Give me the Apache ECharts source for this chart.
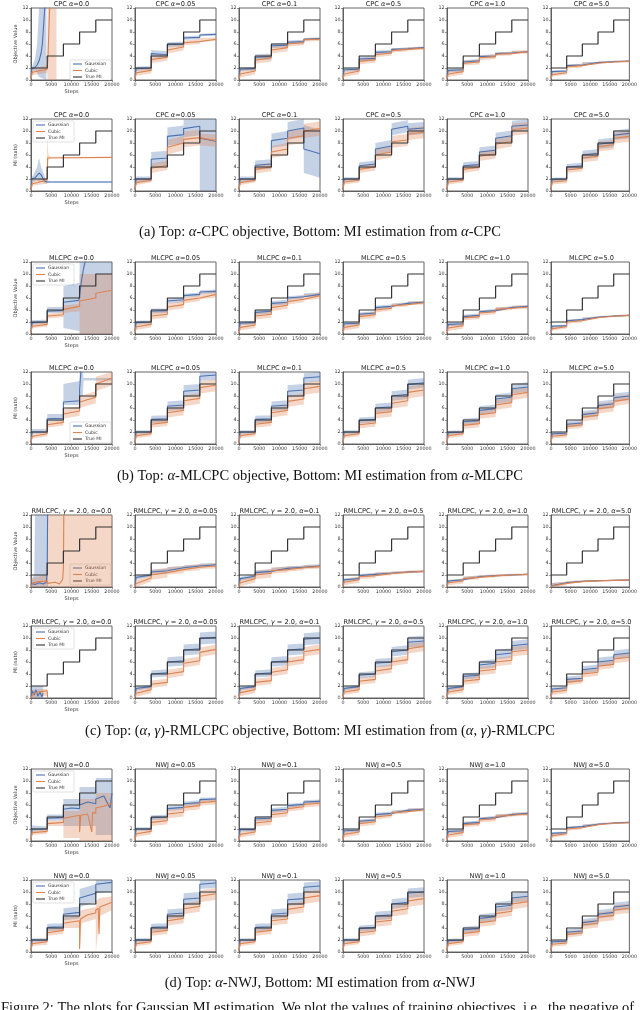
<!DOCTYPE html>
<html><head><meta charset="utf-8">
<script src="https://cdn.jsdelivr.net/npm/echarts@6/dist/echarts.min.js"></script>
<style>html,body{margin:0;padding:0;background:#fff;overflow:hidden}#c{width:640px;height:1010px}</style>
</head><body><div id="c"></div><script>
// ---------------- DATA ----------------
const ALPHAS = ['0.0','0.05','0.1','0.5','1.0','5.0'];
const METHODS = ['CPC','CPC','MLCPC','MLCPC','RMLCPC','RMLCPC','NWJ','NWJ'];
const GAMMA = '2.0';
const Y_NAMES = ['Objective Value','MI (nats)'];
const X_TICKS = [0,5000,10000,15000,20000];
const Y_TICKS = [0,2,4,6,8,10,12];
const LEGEND_NAMES = ['Gaussian','Cubic','True MI'];
// knot steps for smoothed curves: start, stage1 start/end, stage2 start/end ...
const KNOT_STEPS = [0,300,4000,4000,8000,8000,12000,12000,16000,16000,20000];
const TRUE_MI_STEPS = [0,4000,4000,8000,8000,12000,12000,16000,16000,20000];
const TRUE_MI = [2,2,4,4,6,6,8,8,10,10];

const CPC_OBJ_G = [
 [[0,0.3],[200,1.9],[1000,2.1],[1500,2.5],[2000,3.2],[2500,4.5],[2800,6],[3000,8],[3200,10],[3400,12],[3500,14]],
 [0.5,1.9,2.0,4.4,4.2,5.9,6.0,7.0,7.1,7.5,7.6],
 [0.5,1.8,1.9,3.8,3.9,5.7,5.8,6.3,6.4,6.8,6.9],
 [0.5,1.7,1.8,3.5,3.6,4.6,4.7,5.1,5.2,5.3,5.4],
 [0.5,1.6,1.7,3.0,3.2,3.9,4.0,4.4,4.5,4.7,4.7],
 [0.4,1.4,1.5,2.4,2.5,2.8,2.9,3.0,3.05,3.1,3.15]];
const CPC_OBJ_C = [
 [[0,0.2],[300,1.3],[4000,1.8],[4200,4],[4400,8],[4600,12],[4700,14]],
 [0.2,1.2,1.6,3.4,3.8,5.0,5.5,6.2,6.4,6.7,6.8],
 [0.2,1.0,1.5,3.3,3.7,5.0,5.4,6.0,6.2,6.7,6.8],
 [0.2,1.0,1.5,3.1,3.4,4.2,4.5,4.9,5.1,5.2,5.3],
 [0.2,1.0,1.4,2.8,3.0,3.7,3.9,4.3,4.4,4.6,4.7],
 [0.2,0.9,1.2,2.2,2.4,2.7,2.8,2.95,3.0,3.1,3.1]];
const CPC_OBJ_SG = [
 [[0,0,2],[500,1.6,2.6],[1000,1.6,3.5],[1500,1.2,6],[2000,0.5,12],[3800,0,12]],
 [0.35,0.6,0.4,0.3,0.2],[0.3,0.5,0.4,0.3,0.2],[0.3,0.4,0.3,0.2,0.15],[0.3,0.3,0.25,0.2,0.15],[0.2,0.2,0.15,0.1,0.1]];
const CPC_OBJ_SC = [
 [[0,0,1.5],[300,0.8,2],[4000,1.2,2.4],[4100,0,12],[6300,0,12]],
 [0.5,0.6,0.6,0.4,0.3],[0.6,0.6,0.6,0.4,0.3],[0.5,0.5,0.4,0.3,0.3],[0.5,0.4,0.4,0.3,0.3],[0.3,0.3,0.2,0.15,0.15]];

const CPC_MI_G = [
 [[0,0.3],[200,2.0],[1000,2.2],[1500,2.6],[2000,3.0],[2500,2.7],[3000,2.0],[3500,1.6],[4000,1.5],[20000,1.5]],
 [0.3,2.0,2.0,5.3,5.5,9.1,9.4,10.4,10.8,8.8,8.3],
 [0.3,2.0,2.0,4.3,4.5,8.4,8.8,10.0,10.5,7.0,6.2],
 [0.3,2.0,2.0,4.2,4.5,7.0,7.5,10.3,10.8,10.3,10.5],
 [0.3,2.0,2.0,4.2,4.4,6.5,6.8,8.8,9.2,10.8,11.0],
 [0.3,1.9,2.0,4.0,4.2,6.0,6.3,7.8,8.1,9.3,9.6]];
const CPC_MI_C = [
 [[0,0.2],[300,1.2],[3500,1.7],[4000,2.0],[4100,5.5],[4500,5.6],[20000,5.6]],
 [0.2,1.4,1.8,3.8,4.3,7.3,8.0,8.6,8.9,8.6,8.4],
 [0.2,1.4,1.8,3.6,4.0,6.5,7.0,8.8,9.2,10.0,10.4],
 [0.2,1.5,1.8,3.6,4.0,6.0,6.5,8.2,8.5,9.5,9.8],
 [0.2,1.5,1.8,3.6,4.0,5.8,6.2,7.8,8.3,10.2,10.5],
 [0.2,1.5,1.7,3.5,3.8,5.5,5.8,7.4,7.7,8.8,9.1]];
const CPC_MI_SG = [
 [[0,0,2.2],[500,1.6,2.6],[1500,1.8,4],[2000,1.5,5.5],[2500,1.8,4],[3500,1.2,2.2],[4500,1.4,1.6],[20000,1.4,1.6]],
 [0.4,1.2,1.5,1.5,9],[0.4,0.8,1.2,1.5,4],[0.3,0.6,1.0,1.0,1.0],[0.3,0.6,0.8,0.9,0.9],[0.3,0.5,0.7,0.8,0.8]];
const CPC_MI_SC = [
 [[0,0,1.5],[300,0.9,1.8],[3900,1.2,2.2],[4000,1,9],[4300,5.2,6],[5000,5.5,5.7],[20000,5.55,5.65]],
 [0.4,0.8,1.2,1.3,1.0],[0.4,0.7,1.0,1.2,1.2],[0.4,0.6,0.9,1.0,1.0],[0.4,0.6,0.8,0.9,1.0],[0.4,0.5,0.7,0.8,0.9]];

const MLCPC_OBJ_G = [
 [[0,0.3],[300,1.9],[4000,2.0],[4000,3.8],[8000,3.9],[8000,5.3],[11800,5.6],[12000,6.5],[12500,9],[13000,11],[13500,12.4],[14000,14]],
 [0.5,1.9,2.0,3.8,3.9,5.5,5.7,6.4,6.6,7.0,7.1],
 [0.5,1.8,1.9,3.6,3.8,5.1,5.3,6.0,6.2,6.5,6.6],
 [0.5,1.7,1.8,3.3,3.5,4.4,4.6,4.9,5.1,5.2,5.3],
 [0.5,1.6,1.7,2.9,3.1,3.7,3.9,4.2,4.4,4.5,4.6],
 [0.4,1.3,1.4,2.2,2.4,2.6,2.8,2.9,3.0,3.05,3.1]];
const MLCPC_OBJ_C = [
 [0.2,1.3,1.6,3.0,3.2,4.1,4.6,5.5,6.0,6.8,7.3],
 [0.2,1.2,1.6,3.0,3.3,4.5,4.9,5.6,6.0,6.3,6.6],
 [0.2,1.1,1.5,3.0,3.3,4.4,4.8,5.4,5.8,6.1,6.4],
 [0.2,1.1,1.5,2.9,3.2,4.0,4.3,4.7,4.9,5.1,5.2],
 [0.2,1.0,1.4,2.7,2.9,3.5,3.7,4.1,4.3,4.4,4.5],
 [0.2,0.9,1.2,2.0,2.2,2.5,2.7,2.85,2.95,3.0,3.1]];
const MLCPC_OBJ_SG = [
 [[0,0,2.2],[300,1.6,2.3],[4000,1.7,2.4],[4000,3.5,4.5],[8000,3.5,4.5],[8000,1,8],[12000,0.5,8.5],[12000,0,12],[20000,0,12]],
 [0.3,0.4,0.4,0.3,0.3],[0.3,0.4,0.4,0.3,0.3],[0.3,0.3,0.3,0.2,0.2],[0.3,0.3,0.25,0.2,0.2],[0.2,0.2,0.15,0.1,0.1]];
const MLCPC_OBJ_SC = [
 [[0,0,1.5],[300,1,1.8],[4000,1.2,2],[4000,2.6,3.4],[8000,2.8,3.6],[8000,3.5,4.8],[12000,3.8,5],[12000,0,10],[20000,0,10]],
 [0.5,0.6,0.6,0.5,0.5],[0.5,0.6,0.6,0.5,0.5],[0.5,0.5,0.4,0.3,0.3],[0.5,0.4,0.4,0.3,0.3],[0.3,0.3,0.2,0.15,0.15]];

const MLCPC_MI_G = [
 [[0,0.3],[300,2.0],[4000,2.0],[4000,4.2],[8000,4.3],[8000,7.0],[12000,7.2],[12000,9],[12300,12],[12500,14]],
 [0.3,2.0,2.0,4.1,4.2,6.3,6.5,8.8,9.0,11.3,11.5],
 [0.3,2.0,2.0,4.1,4.2,6.3,6.5,8.8,9.0,11.0,11.2],
 [0.3,2.0,2.0,3.9,4.1,6.0,6.2,8.0,8.3,9.9,10.2],
 [0.3,1.9,2.0,3.7,3.9,5.6,5.9,7.5,7.8,9.2,9.5],
 [0.3,1.7,1.8,3.3,3.5,4.9,5.2,6.4,6.7,7.7,8.0]];
const MLCPC_MI_C = [
 [0.2,1.3,1.7,3.2,3.6,5.0,5.5,7.0,7.8,10.0,11.0],
 [0.2,1.4,1.7,3.3,3.6,5.2,5.6,7.2,7.6,9.4,9.8],
 [0.2,1.4,1.7,3.3,3.6,5.2,5.6,7.1,7.5,9.2,9.6],
 [0.2,1.4,1.7,3.2,3.5,5.1,5.4,6.8,7.2,8.6,9.0],
 [0.2,1.4,1.7,3.1,3.4,4.9,5.2,6.5,6.9,8.2,8.6],
 [0.2,1.3,1.5,2.9,3.2,4.5,4.8,5.9,6.2,7.1,7.5]];
const MLCPC_MI_SG = [
 [[0,0,2.2],[300,1.7,2.5],[4000,1.8,2.5],[4000,3.8,5],[8000,3.8,5],[8000,6.5,10],[12000,6.5,10.5],[12000,8,12],[12800,8,12],[13000,10.6,11],[20000,10.6,11]],
 [0.3,0.6,0.8,1.0,0.8],[0.3,0.6,0.8,1.0,0.8],[0.3,0.5,0.7,0.8,0.8],[0.3,0.5,0.7,0.8,0.8],[0.3,0.5,0.6,0.7,0.7]];
const MLCPC_MI_SC = [
 [0.4,0.5,0.8,1.0,1.2],[0.4,0.6,0.8,0.9,1.0],[0.4,0.6,0.8,0.9,1.0],[0.4,0.6,0.8,0.9,1.0],[0.4,0.6,0.7,0.8,0.9],[0.4,0.5,0.7,0.8,0.8]];

const RMLCPC_OBJ_G = [
 [[0,0.2],[300,0.6],[1000,0.4],[2000,0.7],[3000,0.5],[3800,0.8],[4000,3],[4100,12],[4200,14]],
 [0.3,1.6,2.0,2.5,2.7,3.0,3.2,3.3,3.5,3.6,3.7],
 [0.3,1.4,1.8,2.4,2.6,2.9,3.1,3.2,3.3,3.4,3.5],
 [0.3,1.2,1.4,1.9,2.1,2.2,2.3,2.4,2.5,2.55,2.6],
 [0.3,1.0,1.2,1.5,1.7,1.8,1.9,1.95,2.0,2.05,2.1],
 [0.2,0.5,0.7,0.85,0.95,1.0,1.05,1.08,1.1,1.12,1.15]];
const RMLCPC_OBJ_C = [
 [[0,0.1],[500,0.7],[2000,0.9],[4000,1.0],[4000,0.6],[6000,0.8],[7000,0.5],[7800,1.2],[8000,3],[8100,12],[8200,14]],
 [0.1,0.6,1.5,2.0,2.4,2.7,2.9,3.1,3.3,3.4,3.5],
 [0.1,0.7,1.4,2.0,2.3,2.7,2.9,3.0,3.2,3.3,3.4],
 [0.1,0.8,1.2,1.7,1.9,2.1,2.25,2.35,2.45,2.5,2.6],
 [0.1,0.7,1.0,1.4,1.6,1.75,1.85,1.9,2.0,2.05,2.1],
 [0.1,0.4,0.6,0.8,0.9,0.97,1.02,1.06,1.1,1.12,1.15]];
const RMLCPC_OBJ_SG = [
 [[0,0,1],[800,0,2],[1000,0,12],[4200,0,12]],
 [0.3,0.4,0.3,0.3,0.3],[0.3,0.35,0.3,0.25,0.25],[0.25,0.25,0.2,0.15,0.15],[0.2,0.2,0.15,0.12,0.12],[0.15,0.12,0.1,0.08,0.08]];
const RMLCPC_OBJ_SC = [
 [[0,0,1.5],[4000,0,2],[4200,0,12],[20000,0,12]],
 [0.6,0.8,0.6,0.5,0.4],[0.6,0.7,0.5,0.4,0.35],[0.5,0.4,0.3,0.25,0.2],[0.4,0.3,0.25,0.2,0.15],[0.3,0.2,0.15,0.1,0.1]];

const RMLCPC_MI_G = [
 [[0,0.2],[300,1.2],[800,0.5],[1200,1.4],[1700,0.3],[2200,1.0],[2700,0.2],[3000,0.8]],
 [0.3,1.6,1.9,4.0,4.2,6.0,6.2,8.0,8.2,9.9,10.1],
 [0.3,1.6,1.9,4.0,4.2,6.0,6.2,8.0,8.2,9.8,10.0],
 [0.3,1.6,1.9,3.8,4.0,5.8,6.0,7.7,8.0,9.3,9.5],
 [0.3,1.6,1.9,3.6,3.8,5.5,5.8,7.2,7.5,8.7,9.0],
 [0.3,1.5,1.7,3.1,3.3,4.7,5.0,6.0,6.3,7.2,7.5]];
const RMLCPC_MI_C = [
 [[0,0.1],[500,0.6],[1500,1.0],[3000,1.1],[4000,1.2],[4100,0]],
 [0.1,0.8,1.4,2.3,2.6,4.0,4.4,5.8,6.2,7.6,8.1],
 [0.1,0.9,1.4,2.6,2.9,4.3,4.7,6.0,6.4,7.7,8.1],
 [0.1,1.0,1.4,2.8,3.1,4.5,4.9,6.0,6.4,8.2,8.6],
 [0.1,1.0,1.4,2.8,3.1,4.5,4.8,6.0,6.3,7.7,8.0],
 [0.1,1.0,1.3,2.6,2.9,4.0,4.3,5.3,5.6,6.5,6.8]];
const RMLCPC_MI_SG = [
 [[0,0,2],[3000,0,2]],
 [0.3,0.6,0.8,0.9,1.0],[0.3,0.6,0.8,0.9,1.0],[0.3,0.5,0.7,0.8,0.9],[0.3,0.5,0.7,0.8,0.8],[0.3,0.5,0.6,0.7,0.7]];
const RMLCPC_MI_SC = [
 [[0,0,1.3],[4000,0.4,1.6],[4200,0,0.2]],
 [0.6,0.6,0.7,0.7,0.8],[0.6,0.6,0.7,0.7,0.8],[0.5,0.6,0.7,0.7,0.8],[0.5,0.6,0.7,0.7,0.8],[0.5,0.5,0.6,0.6,0.7]];

const NWJ_OBJ_G = [
 [[0,0.3],[300,2.0],[4000,2.0],[4000,3.8],[8000,3.9],[8000,5.3],[10000,5.5],[12000,5.4],[12000,6.0],[14000,6.5],[16000,6.2],[16000,7.0],[18000,7.5],[19500,5.5],[20000,8.0]],
 [0.5,2.0,2.0,3.9,4.0,5.4,5.6,6.2,6.4,6.9,7.0],
 [0.5,1.9,1.9,3.7,3.8,5.1,5.3,5.9,6.1,6.5,6.6],
 [0.5,1.7,1.8,3.3,3.5,4.4,4.6,4.9,5.1,5.2,5.3],
 [0.5,1.6,1.7,2.9,3.1,3.7,3.9,4.2,4.4,4.5,4.6],
 [0.4,1.3,1.4,2.2,2.4,2.6,2.8,2.9,3.0,3.05,3.1]];
const NWJ_OBJ_C = [
 [[0,0.2],[300,1.4],[4000,1.6],[4000,2.9],[8000,3.1],[8000,3.8],[12000,4.3],[12000,1.5],[12300,4.3],[14000,4.5],[15000,1.5],[15200,4.8],[16000,4.6],[16000,5.5],[18000,5.8],[20000,6.3]],
 [0.2,1.2,1.6,3.1,3.4,4.5,4.8,5.6,5.9,6.4,6.6],
 [0.2,1.1,1.5,3.0,3.3,4.4,4.7,5.4,5.7,6.1,6.3],
 [0.2,1.1,1.5,2.9,3.2,4.0,4.3,4.7,4.9,5.1,5.2],
 [0.2,1.0,1.4,2.7,2.9,3.5,3.7,4.1,4.3,4.4,4.5],
 [0.2,0.9,1.2,2.0,2.2,2.5,2.7,2.85,2.95,3.0,3.05]];
const NWJ_OBJ_SG = [
 [[0,0,2.4],[300,1.6,2.6],[4000,1.8,2.4],[4000,3.4,4.4],[8000,3.4,4.4],[8000,2.5,7],[12000,2.5,7],[12000,2.5,9],[16000,2.5,9],[16000,1,10.5],[20000,1,10.5]],
 [0.3,0.4,0.4,0.4,0.3],[0.3,0.4,0.4,0.3,0.3],[0.3,0.3,0.3,0.2,0.2],[0.3,0.3,0.25,0.2,0.2],[0.2,0.2,0.15,0.1,0.1]];
const NWJ_OBJ_SC = [
 [[0,0,1.6],[300,1,1.8],[4000,1.2,2],[4000,2.5,3.4],[8000,2.5,3.4],[8000,0.5,5],[12000,0.5,5],[12000,0,7],[16000,0,7],[16000,0,8],[20000,0,8]],
 [0.5,0.6,0.7,0.6,0.5],[0.5,0.6,0.6,0.5,0.5],[0.5,0.5,0.4,0.3,0.3],[0.5,0.4,0.4,0.3,0.3],[0.3,0.3,0.2,0.15,0.15]];

const NWJ_MI_G = [
 [0.3,2.0,2.0,4.1,4.2,6.3,6.6,9.0,9.8,11.3,11.6],
 [0.3,2.0,2.0,4.1,4.2,6.3,6.5,8.8,9.0,11.3,11.5],
 [0.3,2.0,2.0,4.1,4.2,6.3,6.5,8.7,8.9,10.8,11.0],
 [0.3,2.0,2.0,3.9,4.1,6.0,6.2,8.0,8.3,9.8,10.0],
 [0.3,1.9,2.0,3.7,3.9,5.6,5.9,7.5,7.8,9.0,9.3],
 [0.3,1.7,1.8,3.3,3.5,4.9,5.2,6.3,6.6,7.5,7.8]];
const NWJ_MI_C = [
 [[0,0.2],[300,1.4],[4000,1.7],[4000,3.2],[8000,3.6],[8000,4.8],[12000,5.2],[12000,0.5],[12200,5.5],[14000,6.2],[16000,6.5],[16000,7],[16600,7.3],[16800,3],[17000,7.5],[20000,8.3]],
 [0.2,1.4,1.7,3.3,3.6,5.2,5.6,7.2,7.6,9.3,9.7],
 [0.2,1.4,1.7,3.3,3.6,5.2,5.5,7.1,7.5,9.0,9.4],
 [0.2,1.4,1.7,3.2,3.5,5.0,5.3,6.8,7.2,8.5,8.9],
 [0.2,1.4,1.7,3.1,3.4,4.9,5.2,6.4,6.8,8.0,8.4],
 [0.2,1.3,1.5,2.9,3.2,4.5,4.8,5.8,6.1,7.0,7.3]];
const NWJ_MI_SG = [
 [0.3,0.6,1.0,1.5,1.5],[0.3,0.6,0.8,1.0,0.8],[0.3,0.6,0.8,1.0,0.8],[0.3,0.5,0.7,0.8,0.8],[0.3,0.5,0.7,0.8,0.8],[0.3,0.5,0.6,0.7,0.7]];
const NWJ_MI_SC = [
 [[0,0,1.6],[300,1,1.8],[4000,1.2,2.1],[4000,2.7,3.8],[8000,3,4.1],[8000,4,5.8],[12000,4,6],[12000,0,6.5],[12500,4.8,7],[16000,5.5,7.5],[16000,0,8.5],[17000,6,9],[20000,7,9.3]],
 [0.4,0.6,0.8,0.9,1.0],[0.4,0.6,0.8,0.9,1.0],[0.4,0.6,0.8,0.9,1.0],[0.4,0.6,0.7,0.8,0.9],[0.4,0.5,0.7,0.8,0.8]];

const ROWS = [
 [CPC_OBJ_G,CPC_OBJ_C,CPC_OBJ_SG,CPC_OBJ_SC],
 [CPC_MI_G,CPC_MI_C,CPC_MI_SG,CPC_MI_SC],
 [MLCPC_OBJ_G,MLCPC_OBJ_C,MLCPC_OBJ_SG,MLCPC_OBJ_SC],
 [MLCPC_MI_G,MLCPC_MI_C,MLCPC_MI_SG,MLCPC_MI_SC],
 [RMLCPC_OBJ_G,RMLCPC_OBJ_C,RMLCPC_OBJ_SG,RMLCPC_OBJ_SC],
 [RMLCPC_MI_G,RMLCPC_MI_C,RMLCPC_MI_SG,RMLCPC_MI_SC],
 [NWJ_OBJ_G,NWJ_OBJ_C,NWJ_OBJ_SG,NWJ_OBJ_SC],
 [NWJ_MI_G,NWJ_MI_C,NWJ_MI_SG,NWJ_MI_SC]];

const CAPTIONS = [
 ['(a) Top: ','α','-CPC objective, Bottom: MI estimation from ','α','-CPC'],
 ['(b) Top: ','α','-MLCPC objective, Bottom: MI estimation from ','α','-MLCPC'],
 ['(c) Top: (','α',', ','γ',')-RMLCPC objective, Bottom: MI estimation from (','α',', ','γ',')-RMLCPC'],
 ['(d) Top: ','α','-NWJ, Bottom: MI estimation from ','α','-NWJ']];
const FIG_TEXT = 'Figure 2: The plots for Gaussian MI estimation. We plot the values of training objectives, i.e., the negative of';

// ---------------- LAYOUT ----------------
const COL_LEFT0 = 31, COL_STEP = 104, GW = 81, GH = 72;
const ROW_TOPS = [8,119,262,372,515,626,769,880];
const CAPTION_Y = [232,476,731,983];
const LEGEND_POS = [[70,60],[33,121],[33,264],[70,422],[70,564],[33,628],[33,771],[33,882]];
const BLUE = '#4C72B0', ORANGE = '#DD8452', BLACK = '#333333';
const BLUE_BAND = 'rgba(76,114,176,0.32)', ORANGE_BAND = 'rgba(221,132,82,0.32)';
const AXIS_COLOR = '#555';
const FONT = 'DejaVu Sans';
const STAGE_OF_KNOT = [0,0,0,1,1,2,2,3,3,4,4];

function clampY(v){ return Math.max(0, Math.min(12, v)); }
function toLine(v){ return Array.isArray(v[0]) ? v : v.map((y,i)=>[KNOT_STEPS[i], y]); }
function toBand(v, s){
  if (Array.isArray(s[0])) return s.map(p=>[p[0], clampY(p[1]), clampY(p[2])]);
  return v.map((y,i)=>[KNOT_STEPS[i], clampY(y - s[STAGE_OF_KNOT[i]]), clampY(y + s[STAGE_OF_KNOT[i]])]);
}

const grids=[], xAxes=[], yAxes=[], series=[], graphics=[];
const titleRich = {
  n:{fontSize:6.6,fontFamily:FONT,fill:'#222'},
  i:{fontSize:6.6,fontFamily:FONT,fontStyle:'italic',fill:'#222'}
};

function bandSeries(k, band, color){
  return {
    type:'custom', xAxisIndex:k, yAxisIndex:k, clip:true, silent:true, z:1,
    data:[[band[0][0], band[0][1]]],
    renderItem:function(params, api){
      if (params.dataIndex !== 0) return null;
      const up = band.map(p=>api.coord([p[0],p[2]]));
      const lo = band.slice().reverse().map(p=>api.coord([p[0],p[1]]));
      return {type:'polygon', shape:{points:up.concat(lo)}, style:{fill:color, stroke:null}};
    }
  };
}

for (let r=0;r<8;r++){
  const [G,C,SG,SC] = ROWS[r];
  for (let c=0;c<6;c++){
    const k = r*6+c;
    const left = COL_LEFT0 + c*COL_STEP, top = ROW_TOPS[r];
    grids.push({left:left, top:top, width:GW, height:GH, show:true, borderColor:AXIS_COLOR, borderWidth:0.9, backgroundColor:'#fff'});
    xAxes.push({
      gridIndex:k, type:'value', min:0, max:20000, interval:5000,
      axisLine:{show:true, onZero:false, lineStyle:{color:AXIS_COLOR, width:0.9}},
      axisTick:{show:true, length:2, lineStyle:{color:AXIS_COLOR, width:0.6}},
      axisLabel:{fontSize:4.8, color:'#333', margin:2.5, fontFamily:FONT, formatter:v=>String(v)},
      splitLine:{show:false},
      name: (c===0 ? 'Steps' : ''), nameLocation:'middle', nameGap:9,
      nameTextStyle:{fontSize:5, color:'#333', fontFamily:FONT}
    });
    yAxes.push({
      gridIndex:k, type:'value', min:0, max:12, interval:2,
      axisLine:{show:true, onZero:false, lineStyle:{color:AXIS_COLOR, width:0.9}},
      axisTick:{show:true, length:2, lineStyle:{color:AXIS_COLOR, width:0.6}},
      axisLabel:{fontSize:4.8, color:'#333', margin:2.5, fontFamily:FONT},
      splitLine:{show:false},
      name: (c===0 ? Y_NAMES[r%2] : ''), nameLocation:'middle', nameGap:12,
      nameTextStyle:{fontSize:5, color:'#333', fontFamily:FONT}
    });
    const gLine = toLine(G[c]), cLine = toLine(C[c]);
    series.push(bandSeries(k, toBand(G[c], SG[c]), BLUE_BAND));
    series.push(bandSeries(k, toBand(C[c], SC[c]), ORANGE_BAND));
    series.push({type:'line', name:'Gaussian', xAxisIndex:k, yAxisIndex:k, data:gLine, showSymbol:false, silent:true, z:2,
      lineStyle:{color:BLUE, width:1.1}, itemStyle:{color:BLUE}});
    series.push({type:'line', name:'Cubic', xAxisIndex:k, yAxisIndex:k, data:cLine, showSymbol:false, silent:true, z:2,
      lineStyle:{color:ORANGE, width:1.1}, itemStyle:{color:ORANGE}});
    series.push({type:'line', name:'True MI', xAxisIndex:k, yAxisIndex:k, data:TRUE_MI_STEPS.map((x,i)=>[x,TRUE_MI[i]]), showSymbol:false, silent:true, z:3,
      lineStyle:{color:BLACK, width:1.2}, itemStyle:{color:BLACK}});
    // title
    let txt;
    if (METHODS[r]==='RMLCPC') txt = '{n|RMLCPC, }{i|γ}{n| = '+GAMMA+', }{i|α}{n|='+ALPHAS[c]+'}';
    else txt = '{n|'+METHODS[r]+' }{i|α}{n|='+ALPHAS[c]+'}';
    graphics.push({type:'text', x:left+GW/2, y:top-0.5, silent:true,
      style:{text:txt, rich:titleRich, align:'center', verticalAlign:'bottom'}});
  }
  // legend box
  const [lx,ly] = LEGEND_POS[r];
  const cols = [BLUE, ORANGE, BLACK];
  const ch = [{type:'rect', shape:{x:0,y:0,width:41,height:21,r:1.5}, style:{fill:'rgba(255,255,255,0.85)', stroke:'#cccccc', lineWidth:0.6}}];
  LEGEND_NAMES.forEach((nm,i)=>{
    const yy = 4 + i*6.5;
    ch.push({type:'line', shape:{x1:3,y1:yy,x2:12,y2:yy}, style:{stroke:cols[i], lineWidth:1.1}});
    ch.push({type:'text', x:15, y:yy, style:{text:nm, fontSize:4.6, fontFamily:FONT, fill:'#333', verticalAlign:'middle', align:'left'}});
  });
  graphics.push({type:'group', x:lx, y:ly, z:10, silent:true, children:ch});
}

const capRich = {
  n:{fontSize:14.5, fontFamily:'Liberation Serif', fill:'#111'},
  i:{fontSize:14.5, fontFamily:'Liberation Serif', fontStyle:'italic', fill:'#111'}
};
CAPTIONS.forEach((parts, i)=>{
  const t = parts.map((p,j)=>(p==='α'||p==='γ') ? '{i|'+p+'}' : '{n|'+p+'}').join('');
  graphics.push({type:'text', x:320, y:CAPTION_Y[i], silent:true, style:{text:t, rich:capRich, align:'center', verticalAlign:'middle'}});
});
graphics.push({type:'text', x:1, y:1001, silent:true, style:{text:FIG_TEXT, fontSize:14.5, fontFamily:'Liberation Serif', fill:'#111', align:'left', verticalAlign:'top'}});

const chart = echarts.init(document.getElementById('c'), null, {renderer:'canvas'});
chart.setOption({
  animation:false, backgroundColor:'#fff',
  grid:grids, xAxis:xAxes, yAxis:yAxes, series:series, graphic:graphics
});
</script></body></html>
